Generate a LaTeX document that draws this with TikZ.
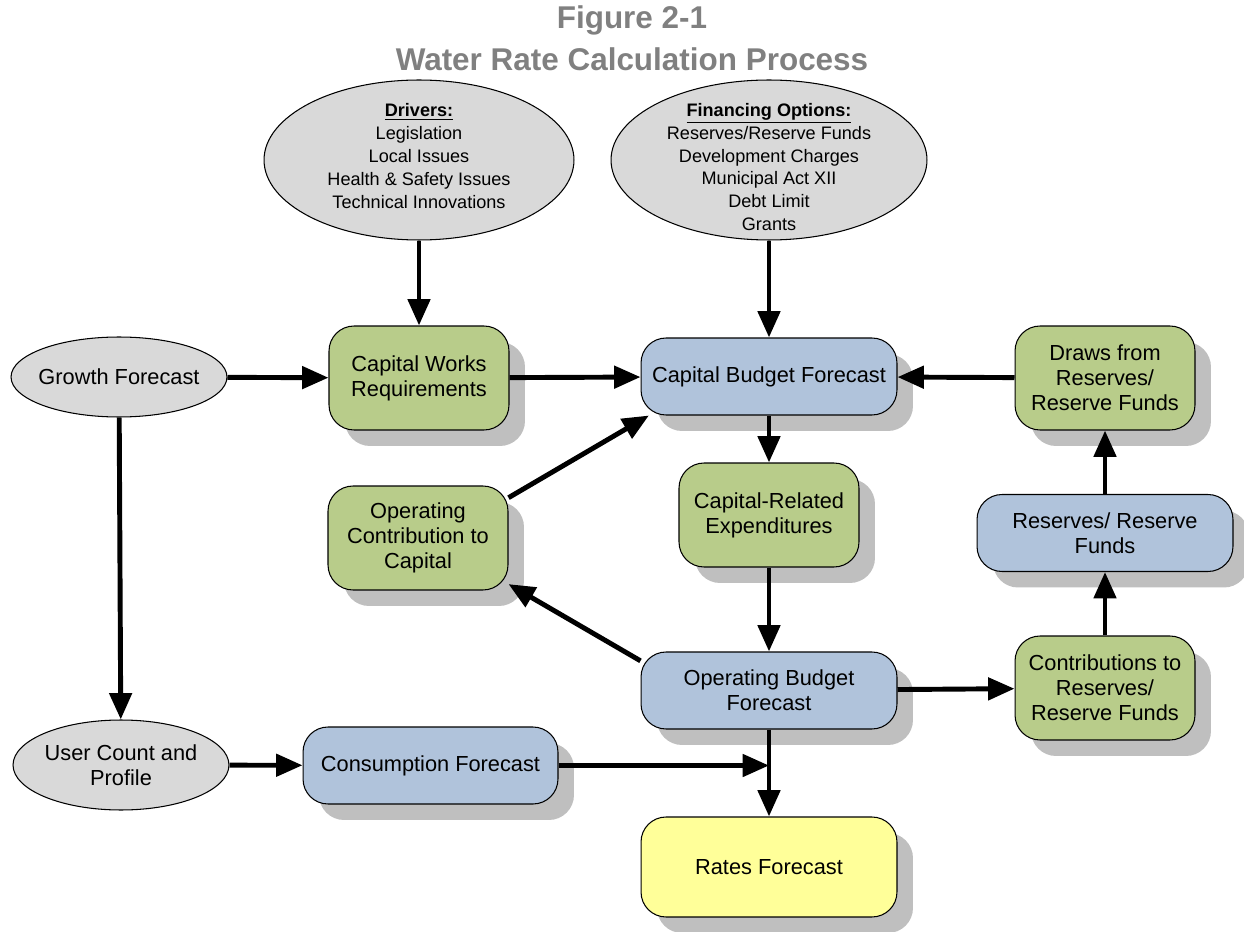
\documentclass[tikz,border=0pt]{standalone}
\usepackage{fontspec}
\setmainfont{Liberation Sans}
\usetikzlibrary{arrows.meta, shapes.geometric, shadows}

\definecolor{boxgreen}{RGB}{184,204,138}
\definecolor{boxblue}{RGB}{176,195,219}
\definecolor{boxyellow}{RGB}{255,255,153}
\definecolor{ovalgray}{RGB}{217,217,217}
\definecolor{titlegray}{RGB}{128,128,128}

\begin{document}
\begin{tikzpicture}[x=0.02cm, y=-0.02cm,
    box/.style = {draw, line width=0.6pt, rounded corners=0.5cm, align=center,
      font=\fontsize{12.4}{14.3}\selectfont, inner sep=2pt,
      drop shadow={shadow xshift=0.32cm, shadow yshift=-0.32cm, fill=black!25, opacity=1}},
    greenbox/.style = {box, fill=boxgreen, minimum width=3.6cm, minimum height=2.08cm},
    bluebox/.style = {box, fill=boxblue, minimum width=5.12cm, minimum height=1.54cm},
    oval/.style = {draw, ellipse, line width=0.6pt, fill=ovalgray, inner sep=0pt},
    ovaltext/.style = {align=center, inner sep=0pt, font=\fontsize{12.4}{14.3}\selectfont},
    smalltext/.style = {align=center, inner sep=0pt, font=\fontsize{10.3}{13}\selectfont},
    flow/.style = {-{Triangle[length=15pt, width=12.5pt]}, line width=2.8pt}]
    \useasboundingbox (0,0) rectangle (1244,932);

    \node[align=center, text=titlegray, font=\fontsize{17.9}{23.8}\selectfont\bfseries] (title) at (632,38) {Figure 2-1\\Water Rate Calculation Process};

    \node[oval, minimum width=6.2cm, minimum height=3.2cm] (drivers) at (419,160) {};
    \node[smalltext] (drivers-text) at (419,156) {\textbf{\underline{Drivers:}}\\Legislation\\Local Issues\\Health \& Safety Issues\\Technical Innovations};
    \node[oval, minimum width=6.32cm, minimum height=3.2cm] (finance) at (769,160) {};
    \node[smalltext] (finance-text) at (769,167) {\textbf{\underline{Financing Options:}}\\Reserves/Reserve Funds\\Development Charges\\Municipal Act XII\\Debt Limit\\Grants};
    \node[oval, minimum width=4.32cm, minimum height=1.6cm] (growth) at (119,377) {};
    \node[ovaltext] (growth-text) at (growth) {Growth Forecast};
    \node[oval, minimum width=4.32cm, minimum height=1.8cm] (users) at (121,765) {};
    \node[ovaltext] (users-text) at (users) {User Count and\\Profile};

    \node[greenbox] (works) at (419,378) {Capital Works\\Requirements};
    \node[bluebox] (capbudget) at (769,376.5) {Capital Budget Forecast};
    \node[greenbox] (draws) at (1105,378) {Draws from\\Reserves/\\Reserve Funds};
    \node[greenbox] (capexp) at (769,515) {Capital-Related\\Expenditures};
    \node[greenbox] (opcontrib) at (418,538) {Operating\\Contribution to\\Capital};
    \node[bluebox] (reserves) at (1105,533) {Reserves/ Reserve\\Funds};
    \node[bluebox] (opbudget) at (769,690.5) {Operating Budget\\Forecast};
    \node[greenbox] (contrib) at (1105,688) {Contributions to\\Reserves/\\Reserve Funds};
    \node[bluebox, minimum width=5.1cm] (consumption) at (430.5,765.5) {Consumption Forecast};
    \node[box, fill=boxyellow, minimum width=5.12cm, minimum height=2cm] (rates) at (769,867) {Rates Forecast};

    \draw[flow] (drivers) -- (works);
    \draw[flow] (finance) -- (capbudget);
    \draw[flow] (growth) -- (works);
    \draw[flow] (works) -- (capbudget);
    \draw[flow] (draws) -- (capbudget);
    \draw[flow] (capbudget) -- (capexp);
    \draw[flow] (opcontrib.24) -- (capbudget.198);
    \draw[flow] (capexp) -- (opbudget);
    \draw[flow] (opbudget.167) -- (opcontrib.333);
    \draw[flow] (opbudget) -- (contrib);
    \draw[flow] (contrib) -- (reserves);
    \draw[flow] (reserves) -- (draws);
    \draw[flow] (growth) -- (users);
    \draw[flow] (users) -- (consumption);
    \draw[flow] (consumption.east) -- (consumption.east -| rates.north);
    \draw[flow] (opbudget) -- (rates);
  \end{tikzpicture}
\end{document}
